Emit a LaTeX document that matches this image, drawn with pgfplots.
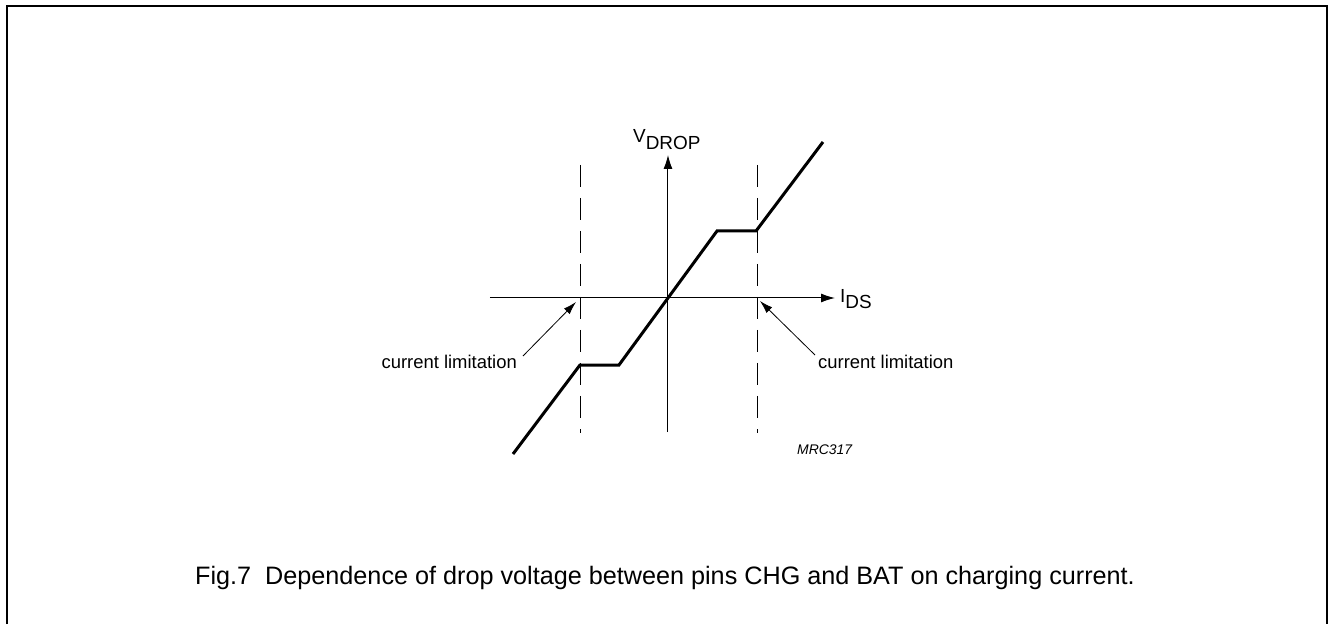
\documentclass[border=0pt]{standalone}
\usepackage{fontspec}
\setmainfont{Liberation Sans}
\usepackage{pgfplots}
\pgfplotsset{compat=1.18}
\usetikzlibrary{arrows.meta}
\begin{document}
\begin{tikzpicture}
\begin{axis}[
  width=345bp, height=277bp, scale only axis,
  xmin=-178, xmax=167, ymin=-134, ymax=143,
  enlargelimits=false,
  axis lines=middle,
  axis line style={line width=1bp, -{Latex[length=14bp,width=9bp]}},
  xtick=\empty, ytick=\empty,
  clip=false,
]
% page bounds
\path (axis cs:-668,-324) rectangle (axis cs:661,298);
% frame
\draw[line width=2bp] (axis cs:-661,-326) -- (axis cs:-661,292) -- (axis cs:659,292) -- (axis cs:659,-326);
% dashed current limitation lines
\addplot[black, line width=1bp, dash pattern=on 22bp off 11bp] coordinates {(-87,133) (-87,-135)};
\addplot[black, line width=1bp, dash pattern=on 22bp off 11bp] coordinates {(89,133) (89,-135)};
% characteristic
\addplot[black, line width=3bp, line join=miter] coordinates {
  (-155,-156) (-88,-67) (-49,-67) (49,67) (88,67) (155,156)};
% labels
\node[anchor=base west, inner sep=0pt, font=\fontsize{19}{22}\selectfont] at (axis cs:-35,155) {V\raisebox{-7bp}{DROP}};
\node[anchor=base west, inner sep=0pt, font=\fontsize{19}{22}\selectfont] at (axis cs:172,-4) {I\raisebox{-6bp}{DS}};
\node[anchor=base east, inner sep=0pt, font=\fontsize{18.5}{22}\selectfont] at (axis cs:-151,-70) {current limitation};
\node[anchor=base west, inner sep=0pt, font=\fontsize{18.5}{22}\selectfont] at (axis cs:150,-70) {current limitation};
\draw[line width=0.8bp, -{Latex[length=13bp,width=8bp]}] (axis cs:-145,-58) -- (axis cs:-92,-4);
\draw[line width=0.8bp, -{Latex[length=13bp,width=8bp]}] (axis cs:147,-57) -- (axis cs:92,-3);
\node[anchor=base west, inner sep=0pt, font=\fontsize{14}{16}\selectfont\itshape] at (axis cs:129,-156) {MRC317};
\node[anchor=base west, inner sep=0pt, font=\fontsize{25.3}{28}\selectfont] at (axis cs:-473,-286) {Fig.7\ \ Dependence of drop voltage between pins CHG and BAT on charging current.};
\end{axis}
\end{tikzpicture}
\end{document}
